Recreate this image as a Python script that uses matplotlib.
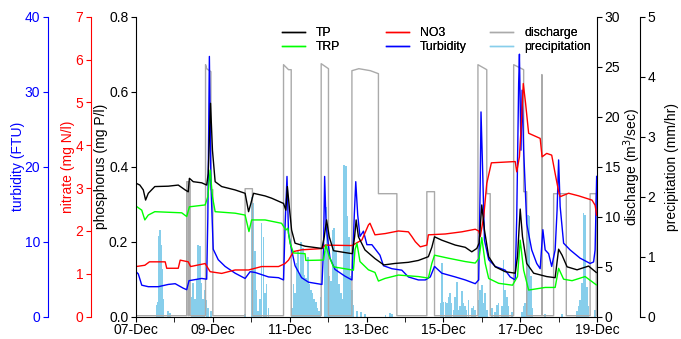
import numpy as np
import matplotlib
matplotlib.use('Agg')
import matplotlib.pyplot as plt
from matplotlib.lines import Line2D

plt.rcParams['font.family'] = ['Liberation Sans', 'DejaVu Sans']
plt.rcParams['font.size'] = 10

# days since 07-Dec 00:00
date_labels = ['07-Dec', '09-Dec', '11-Dec', '13-Dec', '15-Dec', '17-Dec', '19-Dec']

# total phosphorus (mg P/l)
tp_pts = [
    (0.00, 0.356), (0.10, 0.351), (0.19, 0.338), (0.25, 0.311), (0.32, 0.329),
    (0.49, 0.347), (0.84, 0.348), (1.10, 0.351), (1.28, 0.338), (1.36, 0.333),
    (1.39, 0.369), (1.49, 0.360), (1.71, 0.357), (1.84, 0.351), (1.88, 0.382),
    (1.94, 0.569), (1.99, 0.444), (2.06, 0.360), (2.23, 0.347), (2.58, 0.338),
    (2.84, 0.329), (2.93, 0.280), (2.99, 0.302), (3.06, 0.329), (3.36, 0.322),
    (3.53, 0.316), (3.84, 0.302), (3.90, 0.284), (3.94, 0.347), (3.99, 0.293),
    (4.05, 0.231), (4.14, 0.196), (4.40, 0.188), (4.84, 0.182), (4.90, 0.213),
    (4.96, 0.258), (5.03, 0.213), (5.14, 0.176), (5.44, 0.171), (5.63, 0.168),
    (5.69, 0.213), (5.73, 0.258), (5.79, 0.213), (5.96, 0.178), (6.22, 0.155),
    (6.45, 0.138), (6.74, 0.142), (7.09, 0.145), (7.35, 0.150), (7.61, 0.160),
    (7.70, 0.185), (7.77, 0.213), (7.96, 0.204), (8.31, 0.191), (8.57, 0.185),
    (8.74, 0.173), (8.87, 0.182), (8.93, 0.196), (9.00, 0.298), (9.07, 0.231),
    (9.18, 0.160), (9.35, 0.133), (9.61, 0.120), (9.87, 0.116), (9.93, 0.160),
    (10.00, 0.287), (10.06, 0.213), (10.17, 0.142), (10.35, 0.116), (10.69, 0.107),
    (10.91, 0.104), (11.00, 0.180), (11.09, 0.164), (11.22, 0.133), (11.48, 0.125),
    (11.78, 0.135), (11.98, 0.118),
]

# total reactive phosphorus (mg P/l)
trp_pts = [
    (0.00, 0.295), (0.15, 0.284), (0.23, 0.258), (0.32, 0.271), (0.49, 0.280),
    (1.19, 0.277), (1.32, 0.267), (1.39, 0.293), (1.80, 0.298), (1.87, 0.320),
    (1.93, 0.391), (1.99, 0.320), (2.06, 0.280), (2.58, 0.276), (2.84, 0.271),
    (2.94, 0.227), (3.01, 0.258), (3.36, 0.258), (3.79, 0.249), (3.90, 0.231),
    (3.95, 0.236), (4.01, 0.196), (4.10, 0.170), (4.40, 0.168), (4.42, 0.150),
    (4.88, 0.151), (4.94, 0.191), (5.03, 0.160), (5.14, 0.133), (5.66, 0.124),
    (5.70, 0.178), (5.75, 0.196), (5.83, 0.147), (6.05, 0.125), (6.22, 0.118),
    (6.31, 0.095), (6.48, 0.102), (6.83, 0.111), (7.35, 0.107), (7.61, 0.103),
    (7.70, 0.142), (7.77, 0.164), (8.13, 0.156), (8.57, 0.147), (8.83, 0.143),
    (8.93, 0.156), (9.00, 0.211), (9.09, 0.142), (9.18, 0.102), (9.44, 0.089),
    (9.80, 0.084), (9.93, 0.107), (10.00, 0.204), (10.09, 0.124), (10.22, 0.071),
    (10.65, 0.078), (10.91, 0.078), (11.00, 0.129), (11.13, 0.100), (11.35, 0.096),
    (11.69, 0.107), (11.98, 0.085),
]

# nitrate (mg N/l)
no3_pts = [
    (0.00, 1.17), (0.23, 1.20), (0.35, 1.28), (0.76, 1.28), (0.80, 1.13),
    (1.10, 1.13), (1.15, 1.32), (1.36, 1.28), (1.42, 1.17), (1.80, 1.24),
    (1.93, 1.05), (2.23, 1.01), (2.58, 1.09), (2.93, 1.09), (3.27, 1.17),
    (3.71, 1.17), (3.88, 1.24), (3.97, 1.32), (4.10, 1.52), (4.31, 1.56),
    (4.84, 1.59), (4.92, 1.67), (5.62, 1.66), (5.88, 1.79), (6.05, 2.14),
    (6.09, 2.18), (6.22, 1.91), (6.49, 1.94), (6.83, 2.00), (7.09, 1.98),
    (7.18, 1.87), (7.27, 1.75), (7.40, 1.63), (7.57, 1.67), (7.61, 1.91),
    (8.05, 1.93), (8.48, 1.98), (8.83, 2.04), (8.92, 2.00), (8.96, 1.87),
    (9.05, 2.33), (9.13, 3.11), (9.25, 3.59), (9.87, 3.62), (9.91, 3.38),
    (9.98, 3.73), (10.04, 4.67), (10.08, 5.44), (10.14, 4.98), (10.22, 4.28),
    (10.52, 4.16), (10.57, 3.73), (10.69, 3.81), (10.82, 3.77), (10.91, 3.34),
    (11.00, 2.92), (11.04, 2.80), (11.26, 2.88), (11.52, 2.82), (11.87, 2.72),
    (11.95, 2.60), (11.99, 2.37),
]

# turbidity (FTU)
turb_pts = [
    (0.00, 6.0), (0.06, 5.7), (0.15, 4.2), (0.32, 4.0), (0.58, 4.0),
    (0.84, 4.3), (1.02, 4.4), (1.23, 3.8), (1.32, 3.6), (1.38, 4.8),
    (1.71, 5.1), (1.84, 5.0), (1.87, 13.3), (1.91, 34.7), (1.95, 17.8),
    (2.01, 9.0), (2.14, 7.6), (2.32, 6.7), (2.58, 5.8), (2.84, 5.1),
    (2.97, 6.0), (3.10, 5.9), (3.45, 5.3), (3.71, 5.2), (3.84, 4.9),
    (3.88, 12.0), (3.93, 18.7), (3.97, 11.1), (4.05, 8.9), (4.14, 6.8),
    (4.31, 5.2), (4.49, 4.6), (4.84, 4.3), (4.88, 8.9), (4.91, 18.7),
    (4.95, 12.0), (5.05, 7.8), (5.18, 6.3), (5.44, 5.4), (5.62, 4.9),
    (5.68, 13.3), (5.72, 18.0), (5.77, 13.6), (5.83, 10.7), (5.92, 11.4),
    (6.01, 9.6), (6.14, 9.6), (6.35, 8.2), (6.44, 6.8), (6.66, 6.4),
    (6.92, 6.2), (7.09, 5.3), (7.35, 4.9), (7.53, 4.9), (7.66, 5.3),
    (7.77, 6.7), (7.96, 5.8), (8.31, 5.3), (8.57, 4.9), (8.83, 4.4),
    (8.92, 4.9), (8.96, 17.8), (8.98, 27.3), (9.02, 20.0), (9.07, 10.2),
    (9.18, 7.6), (9.35, 6.7), (9.61, 6.2), (9.74, 5.3), (9.87, 4.9),
    (9.91, 13.3), (9.96, 31.1), (9.98, 35.0), (10.02, 22.2), (10.05, 30.2),
    (10.09, 22.2), (10.17, 12.4), (10.30, 8.9), (10.43, 7.1), (10.52, 6.4),
    (10.59, 11.6), (10.65, 8.9), (10.74, 8.4), (10.82, 6.7), (10.91, 8.9),
    (10.96, 14.2), (11.00, 20.9), (11.04, 14.7), (11.13, 9.8), (11.30, 8.9),
    (11.56, 7.8), (11.82, 7.1), (11.91, 7.3), (11.95, 8.9), (11.99, 18.7),
]

# discharge (m3/sec)
q_pts = [
    (0.00, 0.1), (1.32, 0.1), (1.32, 13.5), (1.36, 13.5), (1.36, 0.1),
    (1.38, 0.1), (1.38, 13.5), (1.41, 13.5), (1.41, 0.1),
    (1.81, 0.1), (1.81, 25.2), (1.84, 24.8), (1.95, 24.5), (1.95, 12.7),
    (2.00, 12.7), (2.00, 0.1),
    (2.84, 0.1), (2.84, 12.8), (3.03, 12.8), (3.03, 0.1),
    (3.84, 0.1), (3.84, 25.2), (3.97, 24.7), (4.04, 24.7), (4.04, 0.1),
    (4.82, 0.1), (4.82, 25.3), (5.01, 24.8), (5.01, 0.1),
    (5.62, 0.1), (5.62, 24.6), (5.80, 24.8), (6.10, 24.6), (6.31, 24.3),
    (6.31, 12.3), (6.79, 12.3), (6.79, 0.1),
    (7.57, 0.1), (7.57, 12.5), (7.77, 12.5), (7.77, 0.1),
    (8.90, 0.1), (8.90, 25.2), (9.13, 24.7), (9.13, 12.3), (9.22, 12.3), (9.22, 0.1),
    (9.83, 0.1), (9.83, 25.2), (10.09, 24.7), (10.09, 12.5), (10.17, 12.5), (10.17, 0.1),
    (10.56, 0.1), (10.56, 24.2), (10.57, 24.2), (10.57, 0.1),
    (10.87, 0.1), (10.87, 12.3), (11.20, 12.3), (11.20, 0.1),
    (11.82, 0.1), (11.82, 12.3), (11.98, 12.3), (11.98, 0.1),
]

# precipitation (mm/hr), hourly totals
precip_pts = [
    (0.54, 0.20), (0.57, 0.25), (0.59, 1.35), (0.62, 1.45), (0.65, 1.20),
    (0.67, 0.80), (0.70, 0.30), (0.72, 0.10), (0.84, 0.10), (0.88, 0.06),
    (1.45, 0.33), (1.49, 0.56), (1.53, 0.30), (1.58, 0.61), (1.62, 1.19),
    (1.66, 1.17), (1.70, 0.56), (1.74, 0.30), (1.78, 0.44), (1.83, 0.28),
    (1.87, 0.15), (1.95, 0.10),
    (2.84, 0.05), (3.01, 2.00), (3.05, 1.90), (3.10, 1.10), (3.14, 0.45),
    (3.18, 0.10), (3.23, 0.30), (3.27, 1.56), (3.32, 1.33), (3.36, 0.40),
    (3.40, 0.55), (3.45, 0.15),
    (4.06, 0.15), (4.10, 0.55), (4.14, 0.40), (4.18, 0.89), (4.22, 1.10),
    (4.26, 0.70), (4.30, 1.25), (4.34, 1.15), (4.38, 0.70), (4.42, 0.65),
    (4.47, 1.00), (4.51, 0.55), (4.55, 0.45), (4.59, 0.40), (4.64, 0.30),
    (4.68, 0.25), (4.72, 0.15), (4.76, 0.10), (4.80, 0.33),
    (4.92, 1.10), (4.96, 1.83), (5.00, 1.50), (5.04, 0.67), (5.08, 0.60),
    (5.12, 1.44), (5.16, 1.47), (5.20, 1.10), (5.25, 0.83), (5.29, 0.55),
    (5.33, 0.40), (5.38, 0.30), (5.42, 2.53), (5.46, 2.51), (5.50, 1.67),
    (5.54, 1.33), (5.58, 0.67), (5.62, 0.45), (5.66, 0.20), (5.75, 0.10),
    (5.85, 0.08), (5.96, 0.05), (6.49, 0.03), (6.61, 0.06), (6.66, 0.05),
    (7.92, 0.22), (7.96, 0.89), (8.00, 0.25), (8.05, 0.25), (8.09, 0.22),
    (8.13, 0.33), (8.17, 0.39), (8.21, 0.22), (8.26, 0.11), (8.30, 0.33),
    (8.35, 0.58), (8.39, 0.11), (8.43, 0.17), (8.48, 0.42), (8.52, 0.22),
    (8.56, 0.17), (8.60, 0.11), (8.66, 0.28), (8.74, 0.14), (8.79, 0.17),
    (8.83, 0.11),
    (8.92, 0.28), (8.96, 0.44), (9.00, 0.53), (9.05, 0.22), (9.09, 0.39),
    (9.13, 0.11), (9.26, 0.14), (9.35, 0.08), (9.39, 0.19), (9.44, 0.22),
    (9.52, 0.17), (9.57, 0.94), (9.61, 0.44), (9.65, 0.33), (9.70, 0.17),
    (9.78, 0.08),
    (10.05, 0.08), (10.09, 0.17), (10.13, 0.22), (10.17, 1.00), (10.20, 1.69),
    (10.24, 1.67), (10.28, 0.67), (10.32, 0.14),
    (10.65, 0.05), (11.09, 0.04), (11.48, 0.10), (11.52, 0.17), (11.56, 0.28),
    (11.61, 0.56), (11.65, 1.72), (11.69, 1.69), (11.74, 0.50), (11.78, 0.17),
    (11.95, 0.11),
]

tp_day, tp = np.array(tp_pts).T
trp_day, trp = np.array(trp_pts).T
no3_day, no3 = np.array(no3_pts).T
turb_day, turb = np.array(turb_pts).T
q_day, q = np.array(q_pts).T
precip_day, precip = np.array(precip_pts).T

PX = 72 / 100  # points per pixel at dpi 100

fig = plt.figure(figsize=(6.81, 3.39), dpi=100)
ax_p = fig.add_axes([0.1997, 0.0658, 0.677, 0.885])
ax_q = ax_p.twinx()
ax_turb = ax_p.twinx()
ax_no3 = ax_p.twinx()
ax_tp = ax_p.twinx()

c_grey = '#aaaaaa'
c_sky = '#87ceeb'

ax_p.bar(precip_day, precip, width=0.04, color=c_sky, linewidth=0)
ax_q.plot(q_day, q, color=c_grey, lw=1)
ax_turb.plot(turb_day, turb, color='#0000ff', lw=1)
ax_no3.plot(no3_day, no3, color='#ff0000', lw=1)
ax_tp.plot(trp_day, trp, color='#00ff00', lw=1)
ax_tp.plot(tp_day, tp, color='black', lw=1)

ax_p.set_xlim(0, 12)
ax_p.set_xticks(range(0, 13, 2), labels=date_labels)
ax_p.set_xticks(range(1, 12, 2), minor=True)
ax_p.tick_params(axis='x', which='both', length=3.5, pad=1)

for ax in (ax_p, ax_q, ax_turb, ax_no3, ax_tp):
    for s in ax.spines.values():
        s.set_visible(False)
    ax.tick_params(axis='y', length=3.5, pad=2)
ax_p.spines['bottom'].set_visible(True)

# precipitation, outer right
ax_p.set_ylim(0, 5)
ax_p.yaxis.tick_right()
ax_p.yaxis.set_label_position('right')
ax_p.spines['right'].set_visible(True)
ax_p.spines['right'].set_position(('outward', 43 * PX))
ax_p.set_ylabel('precipitation (mm/hr)', labelpad=7)

# discharge, inner right
ax_q.set_ylim(0, 30)
ax_q.set_yticks(range(0, 31, 5))
ax_q.spines['right'].set_visible(True)
ax_q.set_ylabel('discharge (m$^3$/sec)', labelpad=1)

# phosphorus, inner left
ax_tp.set_ylim(0, 0.8)
ax_tp.set_yticks([0, 0.2, 0.4, 0.6, 0.8])
ax_tp.yaxis.set_major_formatter(plt.FormatStrFormatter('%.1f'))
ax_tp.yaxis.tick_left()
ax_tp.yaxis.set_label_position('left')
ax_tp.spines['left'].set_visible(True)
ax_tp.set_ylabel('phosphorus (mg P/l)', labelpad=1)

# nitrate
ax_no3.set_ylim(0, 7)
ax_no3.yaxis.tick_left()
ax_no3.yaxis.set_label_position('left')
ax_no3.spines['left'].set_visible(True)
ax_no3.spines['left'].set_position(('outward', 45 * PX))
ax_no3.spines['left'].set_color('#ff0000')
ax_no3.tick_params(axis='y', colors='#ff0000')
ax_no3.set_ylabel('nitrate (mg N/l)', color='#ff0000', labelpad=0)

# turbidity
ax_turb.set_ylim(0, 40)
ax_turb.set_yticks(range(0, 41, 10))
ax_turb.yaxis.tick_left()
ax_turb.yaxis.set_label_position('left')
ax_turb.spines['left'].set_visible(True)
ax_turb.spines['left'].set_position(('outward', 88 * PX))
ax_turb.spines['left'].set_color('#0000ff')
ax_turb.tick_params(axis='y', colors='#0000ff')
ax_turb.set_ylabel('turbidity (FTU)', color='#0000ff', labelpad=0)

legend_cols = [
    (282, [('black', 'TP'), ('#00ff00', 'TRP')]),
    (386, [('#ff0000', 'NO3'), ('#0000ff', 'Turbidity')]),
    (490, [(c_grey, 'discharge'), (c_sky, 'precipitation')]),
]
for x0, items in legend_cols:
    handles = [Line2D([], [], color=c, lw=1) for c, _ in items]
    leg = fig.legend(handles, [t for _, t in items], loc='upper left',
                     bbox_to_anchor=(x0 / 681, 1 - 27 / 339), frameon=False,
                     borderpad=0, borderaxespad=0, handlelength=1.9,
                     handletextpad=0.9, labelspacing=0.15, fontsize=8.8)
    fig.add_artist(leg)

fig.savefig('out.png', dpi=100)
